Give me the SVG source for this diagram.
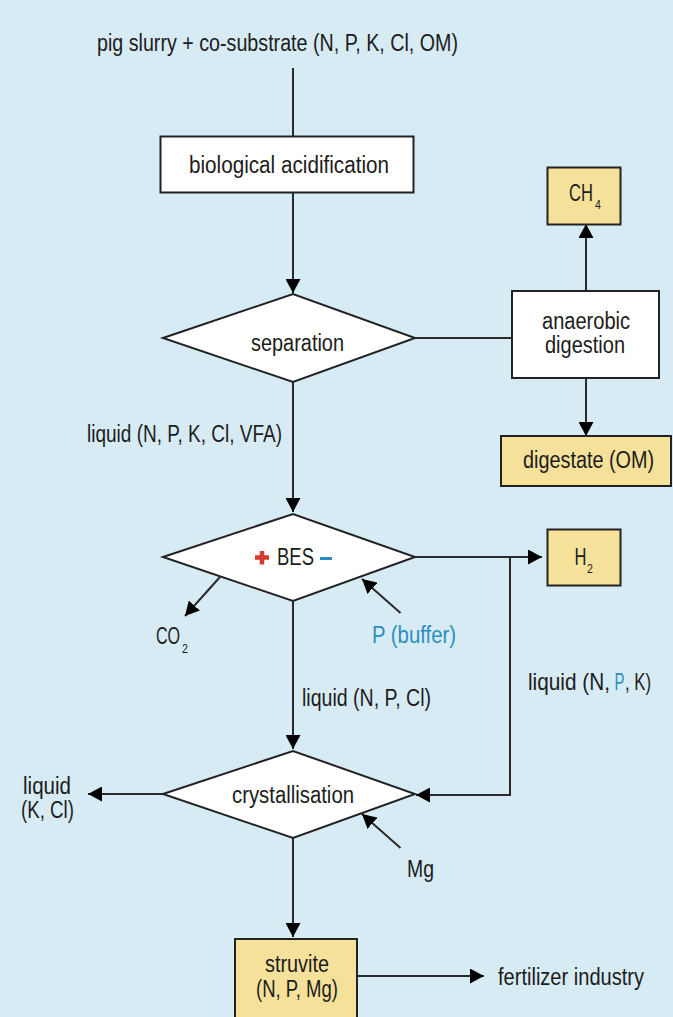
<svg xmlns="http://www.w3.org/2000/svg" width="673" height="1017" viewBox="0 0 673 1017">
<style>
text{font-family:"Liberation Sans",Arial,sans-serif;font-size:23px;fill:#1c1c1c}
.sub{font-size:12.500px}
.w{fill:#fff;stroke:#222;stroke-width:2}
.y{fill:#f5e199;stroke:#222;stroke-width:2}
.c line,.c path{stroke:#2a2a2a;stroke-width:2;fill:none}
.b{fill:#2a8fc0}
</style>
<defs>
<marker id="a" markerUnits="userSpaceOnUse" markerWidth="15" markerHeight="15" refX="14" refY="7.500" orient="auto"><path d="M0 0L14 7.500L0 15Z" fill="#000"/></marker>
</defs>
<rect width="673" height="1017" fill="#d7ebf5"/>
<g id="connectors" class="c">
<line x1="293" y1="68" x2="293" y2="136"/>
<line x1="293" y1="193" x2="293" y2="293" marker-end="url(#a)"/>
<line x1="415" y1="338" x2="512" y2="338"/>
<line x1="586" y1="291" x2="586" y2="224" marker-end="url(#a)"/>
<line x1="586" y1="378" x2="586" y2="436" marker-end="url(#a)"/>
<line x1="293" y1="382" x2="293" y2="512" marker-end="url(#a)"/>
<line x1="415" y1="557" x2="542" y2="557" marker-end="url(#a)"/>
<path d="M510 558V795H416" marker-end="url(#a)"/>
<line x1="220" y1="577" x2="185" y2="616" marker-end="url(#a)"/>
<line x1="400.500" y1="613" x2="362" y2="579" marker-end="url(#a)"/>
<line x1="293" y1="601" x2="293" y2="749" marker-end="url(#a)"/>
<line x1="163" y1="794" x2="88" y2="794" marker-end="url(#a)"/>
<line x1="400.500" y1="848" x2="362" y2="814" marker-end="url(#a)"/>
<line x1="293" y1="838" x2="293" y2="937" marker-end="url(#a)"/>
<line x1="357" y1="976" x2="484" y2="976" marker-end="url(#a)"/>
</g>
<g id="input"><text x="97" y="51" textLength="361" lengthAdjust="spacingAndGlyphs">pig slurry + co-substrate (N, P, K, Cl, OM)</text></g>
<g id="acidification"><rect class="w" x="160.500" y="136.500" width="253" height="56"/><text x="189" y="173" textLength="200" lengthAdjust="spacingAndGlyphs">biological acidification</text></g>
<g id="separation"><path class="w" d="M163 338L293 294L415 338L293 382Z"/><text x="251" y="351" textLength="93" lengthAdjust="spacingAndGlyphs">separation</text></g>
<g id="ch4"><rect class="y" x="547.500" y="167.500" width="73" height="57"/><text transform="translate(569 201) scale(.72 1)">CH</text><text class="sub" transform="translate(595 209) scale(.85 1)">4</text></g>
<g id="anaerobic"><rect class="w" x="512" y="291" width="147" height="87"/><text x="542" y="329" textLength="88" lengthAdjust="spacingAndGlyphs">anaerobic</text><text x="545" y="353" textLength="80" lengthAdjust="spacingAndGlyphs">digestion</text></g>
<g id="digestate"><rect class="y" x="501" y="436" width="170" height="50"/><text transform="translate(523 468) scale(.862 1)">digestate (OM)</text></g>
<g id="label-liquid-1"><text x="87" y="442" textLength="195" lengthAdjust="spacingAndGlyphs">liquid (N, P, K, Cl, VFA)</text></g>
<g id="bes"><path class="w" d="M163 557L293 514L415 557L293 601Z"/>
<path d="M262 551V564.500M255 557.500H269" stroke="#d6392e" stroke-width="4.500" fill="none"/>
<text x="277" y="565" textLength="37" lengthAdjust="spacingAndGlyphs">BES</text>
<line x1="320" y1="558.500" x2="332" y2="558.500" stroke="#2a8fc0" stroke-width="3"/></g>
<g id="h2"><rect class="y" x="547.500" y="529.500" width="73" height="56"/><text transform="translate(574.500 565) scale(.72 1)">H</text><text class="sub" transform="translate(587 573) scale(.85 1)">2</text></g>
<g id="co2"><text transform="translate(156 644) scale(.7 1)">CO</text><text class="sub" transform="translate(182 653) scale(.85 1)">2</text></g>
<g id="buffer"><text class="b" x="372" y="643" textLength="84" lengthAdjust="spacingAndGlyphs">P (buffer)</text></g>
<g id="label-liquid-2"><text x="302" y="706" textLength="129" lengthAdjust="spacingAndGlyphs">liquid (N, P, Cl)</text></g>
<g id="label-liquid-3"><text transform="translate(528 690) scale(.904 1)">liquid (N,</text><text class="b" transform="translate(614.500 690) scale(.65 1)">P</text><text transform="translate(625 690) scale(.727 1)">, K)</text></g>
<g id="crystallisation"><path class="w" d="M163 794L293 751L415 794L293 838Z"/><text x="232" y="803" textLength="122" lengthAdjust="spacingAndGlyphs">crystallisation</text></g>
<g id="label-liquid-4"><text x="23" y="794" textLength="48" lengthAdjust="spacingAndGlyphs">liquid</text><text x="21" y="818" textLength="53" lengthAdjust="spacingAndGlyphs">(K, Cl)</text></g>
<g id="mg"><text x="407" y="877" textLength="27" lengthAdjust="spacingAndGlyphs">Mg</text></g>
<g id="struvite"><rect class="y" x="235" y="939" width="122" height="80"/><text x="265" y="972" textLength="64" lengthAdjust="spacingAndGlyphs">struvite</text><text x="256" y="997" textLength="82" lengthAdjust="spacingAndGlyphs">(N, P, Mg)</text></g>
<g id="fertilizer"><text x="498" y="985" textLength="146" lengthAdjust="spacingAndGlyphs">fertilizer industry</text></g>
</svg>
